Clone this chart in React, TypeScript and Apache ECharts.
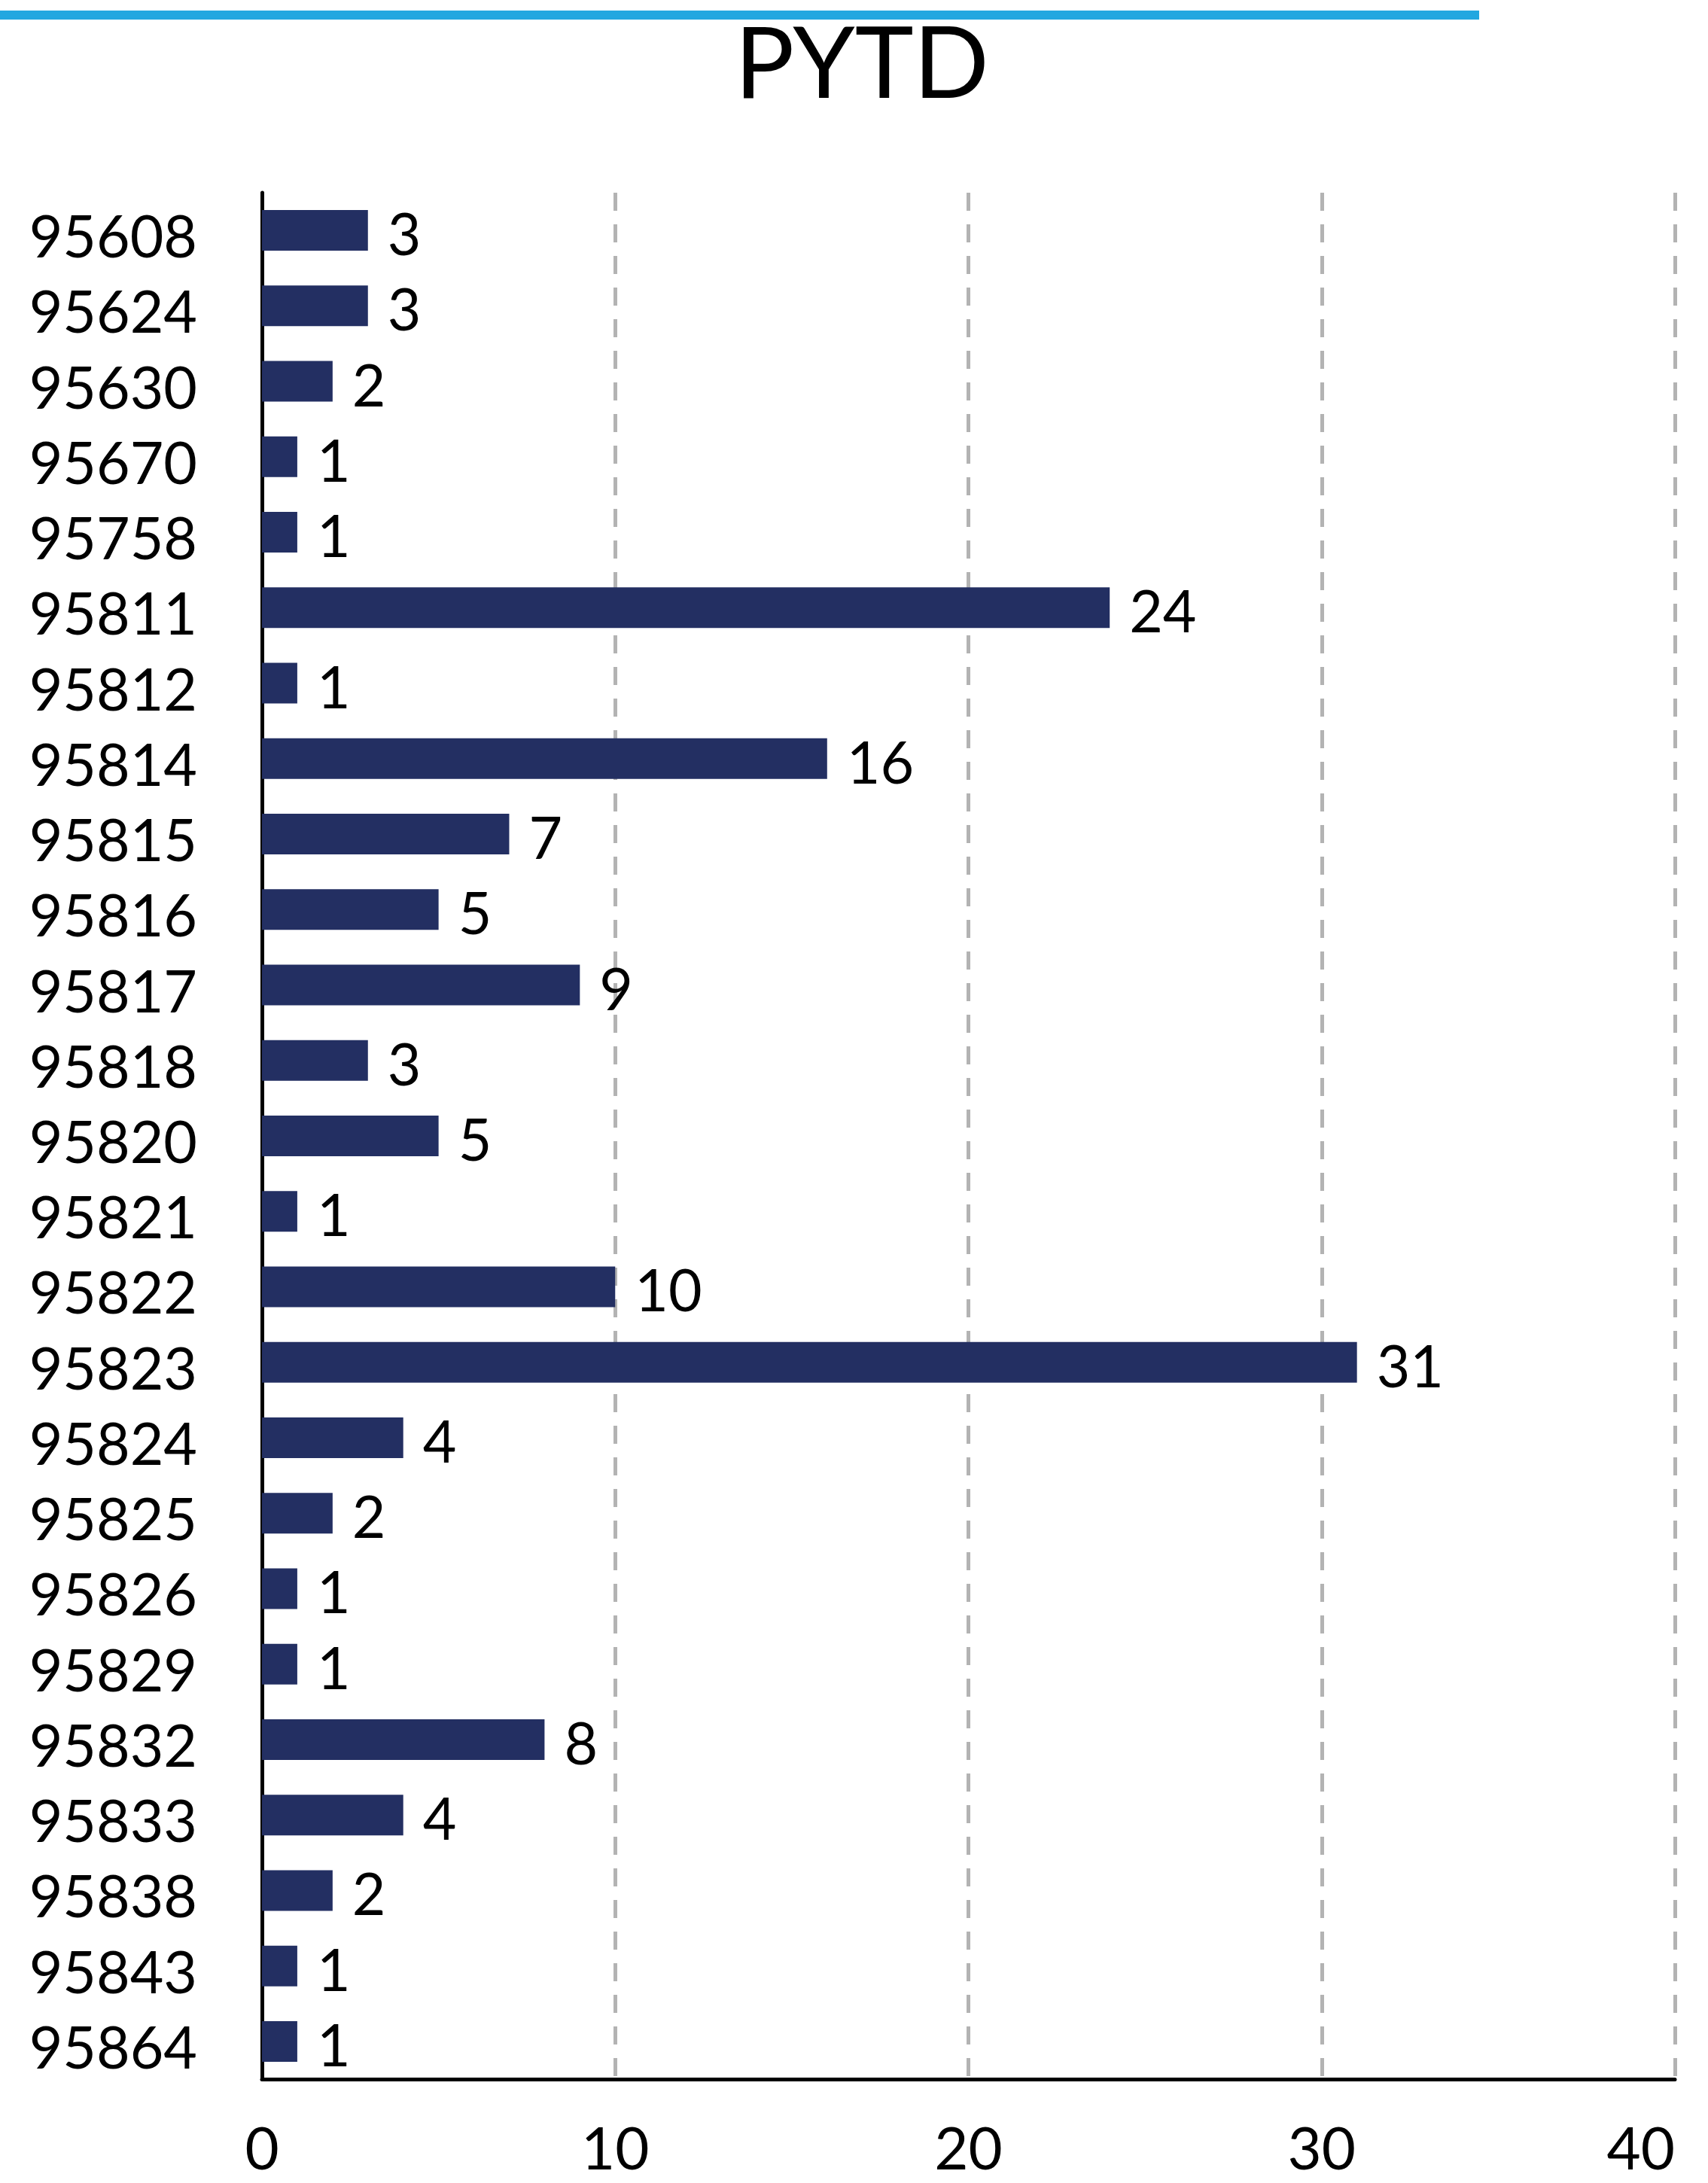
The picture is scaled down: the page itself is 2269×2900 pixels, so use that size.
import React, { useEffect, useRef } from "react";
import * as echarts from "echarts";

const title = "PYTD";
const zipCodes = [
  "95608", "95624", "95630", "95670", "95758", "95811", "95812", "95814", "95815",
  "95816", "95817", "95818", "95820", "95821", "95822", "95823", "95824", "95825",
  "95826", "95829", "95832", "95833", "95838", "95843", "95864",
];
const counts = [3, 3, 2, 1, 1, 24, 1, 16, 7, 5, 9, 3, 5, 1, 10, 31, 4, 2, 1, 1, 8, 4, 2, 1, 1];
const xTicks = { min: 0, max: 40, interval: 10 };

export default function App() {
  const ref = useRef<HTMLDivElement>(null);
  useEffect(() => {
    document.body.style.margin = "0";
    const chart = echarts.init(ref.current!, null, { renderer: "svg" });
    const font = "Lato";
    chart.setOption({
      animation: false,
      backgroundColor: "#ffffff",
      graphic: [
        {
          type: "rect",
          shape: { x: 0, y: 14, width: 1965, height: 12 },
          style: { fill: "#22A7E0" },
        },
      ],
      title: {
        text: title,
        left: 1140,
        top: 8,
        textAlign: "center",
        textStyle: { fontFamily: font, fontSize: 132, lineHeight: 132, fontWeight: "normal", color: "#000" },
      },
      grid: { left: 348, top: 256, right: 44, bottom: 138, containLabel: false },
      xAxis: {
        type: "value",
        min: xTicks.min,
        max: xTicks.max,
        interval: xTicks.interval,
        axisLine: { show: true, onZero: false, lineStyle: { color: "#000", width: 5 } },
        axisTick: { show: false },
        axisLabel: {
          fontFamily: font,
          fontSize: 78,
          lineHeight: 60,
          color: "#000",
          margin: 60,
          alignMaxLabel: "right",
        },
        splitLine: {
          show: true,
          lineStyle: { color: "#B3B3B3", width: 5, type: [24, 18] },
        },
      },
      yAxis: {
        type: "category",
        data: zipCodes,
        inverse: true,
        axisLine: { show: true, lineStyle: { color: "#000", width: 5 } },
        axisTick: { show: false },
        axisLabel: {
          fontFamily: font,
          fontSize: 77,
          color: "#000",
          margin: 86,
          verticalAlign: "top",
          lineHeight: 12,
        },
        splitLine: { show: false },
      },
      series: [
        {
          type: "bar",
          data: counts,
          barWidth: 54,
          itemStyle: { color: "#232F62" },
          label: {
            show: true,
            position: "right",
            distance: 26,
            fontFamily: font,
            fontSize: 77,
            color: "#000",
            verticalAlign: "top",
            lineHeight: 6,
          },
        },
      ],
    });
    return () => chart.dispose();
  }, []);
  return <div ref={ref} style={{ width: 2269, height: 2900 }} />;
}
